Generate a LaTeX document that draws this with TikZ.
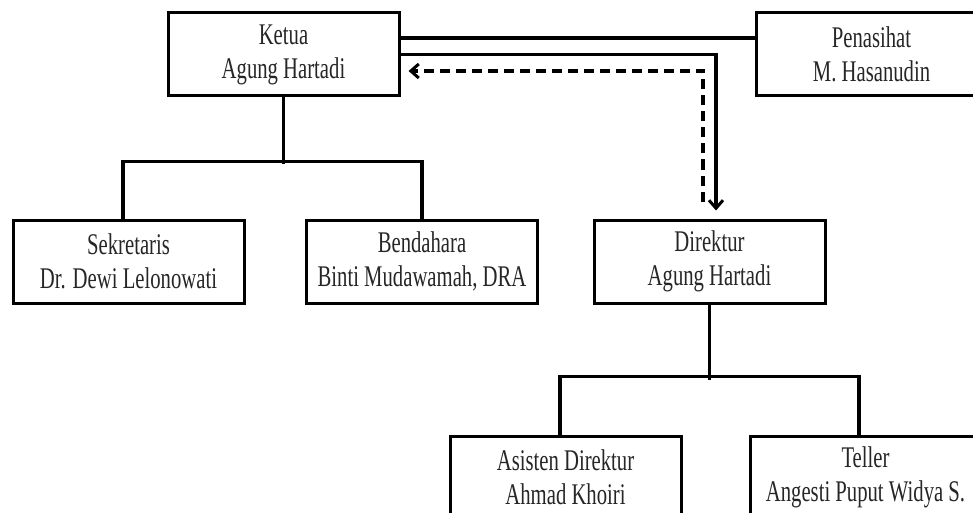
\documentclass[tikz,border=0pt]{standalone}
\usepackage{fontspec}
\setmainfont{Liberation Serif}[FakeStretch=0.69]
\usetikzlibrary{arrows.meta,calc}
\begin{document}
\begin{tikzpicture}[x=1pt,y=-1pt,
  box/.style={draw,line width=3pt,minimum width=231pt,minimum height=83pt,inner sep=0pt,align=center,
    font=\fontsize{30}{34}\selectfont,text=black!85},
  conn/.style={line width=3.2pt},
  tipbarb/.style={-{Straight Barb[length=8pt,width=14pt,line width=3pt]}}]
\useasboundingbox (0,0) rectangle (973,513);
\node[box] (ketua) at (283.5,54.5) {Ketua\\Agung Hartadi};
\node[box] (pen) at (871.5,54.5) {Penasihat\\M. Hasanudin};
\node[box] (sek) at (128.5,261.5) {Sekretaris\\Dr. Dewi Lelonowati};
\node[box] (ben) at (422,261.5) {Bendahara\\Binti Mudawamah, DRA};
\node[box] (dir) at (709.5,261.5) {Direktur\\Agung Hartadi};
\node[box] (asi) at (565.5,477.5) {Asisten Direktur\\Ahmad Khoiri};
\node[box] (tel) at (865.5,477.5) {Teller\\Angesti Puput Widya S.};
% ketua - penasihat
\draw[conn] ([yshift=16.5pt]ketua.east) -- ([yshift=16.5pt]pen.west);
% ketua -> direktur
\draw[conn,tipbarb,shorten >=8pt] (ketua.east) -| ([xshift=6.5pt]dir.north);
% direktur -> ketua dashed
\draw[conn,dash pattern=on 10pt off 6pt,tipbarb,shorten <=17pt,shorten >=8pt]
  ([xshift=-6.5pt]dir.north) |- ([yshift=-16.5pt]ketua.east);
% ketua tree
\draw[conn] (ketua.south) -- ++(0,67);
\draw[conn] ([xshift=-5.5pt]sek.north) -- ++(0,-57) -| (ben.north);
% direktur tree
\draw[conn] (dir.south) -- ++(0,75);
\draw[conn] ([xshift=-5.5pt]asi.north) -- ++(0,-58) -| ([xshift=-6.5pt]tel.north);
\end{tikzpicture}
\end{document}
